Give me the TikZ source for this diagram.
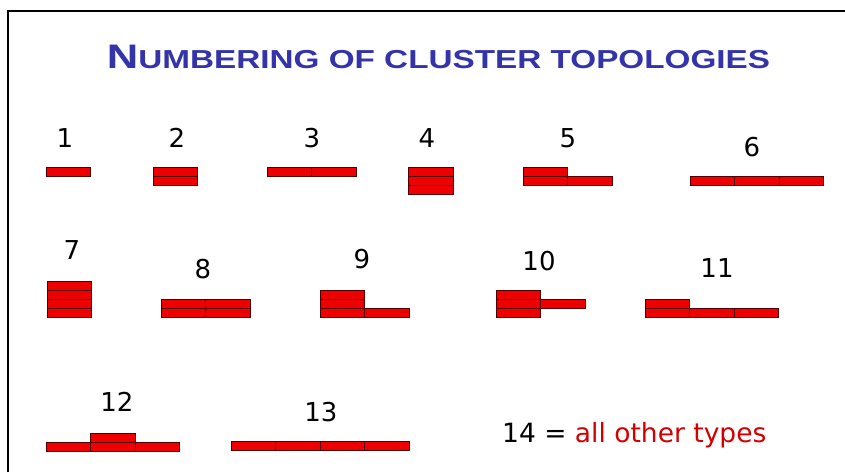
\documentclass[tikz,border=0pt]{standalone}
\usepackage{fontspec}
\usepackage{graphicx}
\setmainfont{DejaVu Sans}
\newfontfamily\titlefont{Liberation Sans}[BoldFont={* Bold}]
\definecolor{titleblue}{RGB}{51,51,170}
\definecolor{cellred}{RGB}{238,0,0}
\definecolor{celledge}{RGB}{80,0,0}
\definecolor{otherred}{RGB}{210,0,0}
\newcommand\cw{44.5}
\newcommand\ch{8.8}
\tikzset{
  cellbox/.style={fill=cellred, draw=celledge, line width=0.95pt},
  lbl/.style={inner sep=0pt, font=\fontsize{26}{26}\selectfont, text=black},
}
\newcommand\cellat[2]{\draw[cellbox] (#1,#2) rectangle ++(\cw,\ch);}
\begin{document}
\begin{tikzpicture}[x=1pt,y=-1pt]
\useasboundingbox (0,0) rectangle (845,472);
\fill[white] (0,0) rectangle (845,472);
\draw[line width=2.4pt] (8,472) -- (8,11) -- (845,11);
% title
\node[anchor=base, inner sep=0pt, text=titleblue] (title) at (438.5,68)
  {\resizebox{663pt}{\height}{\titlefont\bfseries{\fontsize{34}{34}\selectfont N}{\fontsize{26}{26}\selectfont UMBERING OF CLUSTER TOPOLOGIES}}};
% labels
\node[lbl] (l1) at (65,138) {1};
\node[lbl] (l2) at (177,138) {2};
\node[lbl] (l3) at (312,138) {3};
\node[lbl] (l4) at (427,138) {4};
\node[lbl] (l5) at (568,138) {5};
\node[lbl] (l6) at (752,147) {6};
\node[lbl] (l7) at (72,250) {7};
\node[lbl] (l8) at (203,269) {8};
\node[lbl] (l9) at (362,259) {9};
\node[lbl] (l10) at (539,261) {10};
\node[lbl] (l11) at (717,268) {11};
\node[lbl] (l12) at (117,402) {12};
\node[lbl] (l13) at (321,412) {13};
\node[lbl, anchor=base west, font=\fontsize{26.5}{26.5}\selectfont] (l14) at (502,442) {14 = \textcolor{otherred}{all other types}};
% shape 1
\cellat{46}{167.7}
% shape 2
\cellat{153}{176.2}\cellat{153}{167.4}
% shape 3
\cellat{267}{167.7}\cellat{311.5}{167.7}
% shape 4
\cellat{408.5}{185.2}\cellat{408.5}{176.4}\cellat{408.5}{167.6}
% shape 5
\cellat{523}{176.2}\cellat{523}{167.4}\cellat{567.5}{176.2}
% shape 6
\cellat{690}{176.2}\cellat{734.5}{176.2}\cellat{779}{176.2}
% shape 7
\cellat{47}{308.2}\cellat{47}{299.4}\cellat{47}{290.6}\cellat{47}{281.8}
% shape 8
\cellat{161}{308.2}\cellat{161}{299.4}\cellat{205.5}{308.2}\cellat{205.5}{299.4}
% shape 9
\cellat{320}{308.2}\cellat{320}{299.4}\cellat{320}{290.6}\cellat{364.5}{308.2}
% shape 10
\cellat{496}{308.2}\cellat{496}{299.4}\cellat{496}{290.6}\cellat{540.5}{299.4}
% shape 11
\cellat{645}{308.2}\cellat{645}{299.4}\cellat{689.5}{308.2}\cellat{734}{308.2}
% shape 12
\cellat{46}{442.2}\cellat{90.5}{442.2}\cellat{135}{442.2}\cellat{90.5}{433.4}
% shape 13
\cellat{231}{441.2}\cellat{275.5}{441.2}\cellat{320}{441.2}\cellat{364.5}{441.2}
\end{tikzpicture}
\end{document}
